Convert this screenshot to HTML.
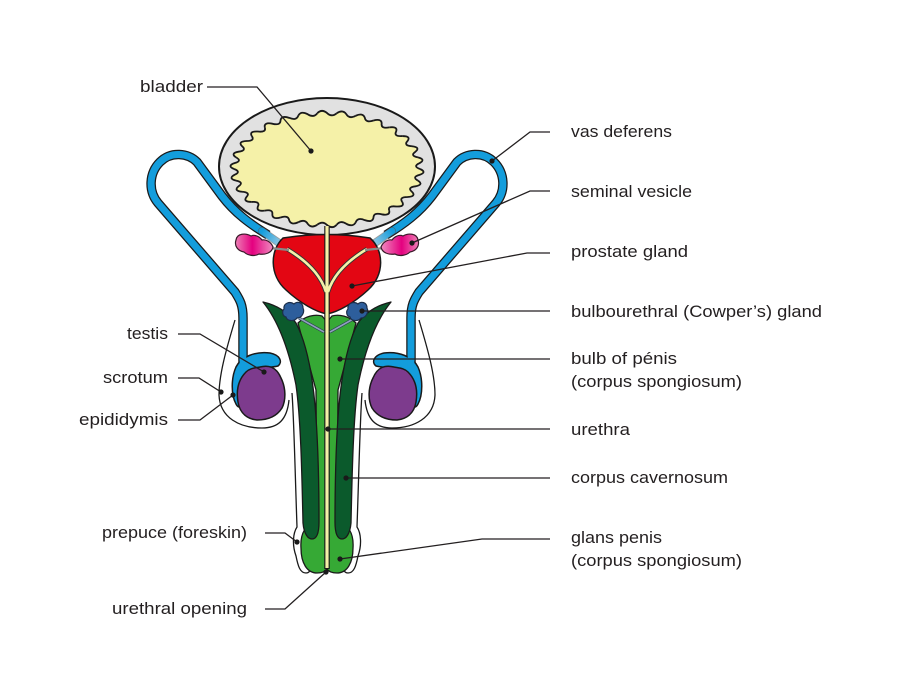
<!DOCTYPE html>
<html>
<head>
<meta charset="utf-8">
<style>
  html, body { margin: 0; padding: 0; background: #ffffff; }
  svg { display: block; }
  text { font-family: "Liberation Sans", Arial, sans-serif; font-size: 17px; fill: #231f20; }
</style>
</head>
<body>
<svg width="902" height="695" viewBox="0 0 902 695" xmlns="http://www.w3.org/2000/svg">
  <defs>
    <path id="wf" d="M0,0 L100,0 Q107.852,5.652 99.452,10.453 Q90.867,14.392 97.815,20.791 Z" fill="#f5f1a8"/>
    <path id="ws" d="M100,0 Q107.852,5.652 99.452,10.453 Q90.867,14.392 97.815,20.791" fill="none" stroke="#1a1a1a" stroke-width="1.8" vector-effect="non-scaling-stroke"/>
    <linearGradient id="vg" gradientUnits="userSpaceOnUse" x1="262" y1="231" x2="290" y2="250">
      <stop offset="0" stop-color="#139ddc"/>
      <stop offset="1" stop-color="#d9dde4"/>
    </linearGradient>
    <linearGradient id="sv" x1="0" y1="0" x2="1" y2="0">
      <stop offset="0" stop-color="#ee7fb6"/>
      <stop offset="0.45" stop-color="#e4007f"/>
      <stop offset="1" stop-color="#f08cc0"/>
    </linearGradient>
    <g id="backL">
      <!-- scrotum outline -->
      <path d="M235,320 C226,350 219,375 219,395 C220,418 240,428 262,428 C278,428 287,420 289,400" fill="none" stroke="#1a1a1a" stroke-width="1.3"/>
      <!-- vas deferens tube -->
      <path d="M243,372 L243,318 C243,305 240,300 235,292 L158,203 C148,191 149,173 160,162 C171,151 188,153 197,162 L222,196 C235,213 250,224 268,235" fill="none" stroke="#1a1a1a" stroke-width="9.5" stroke-linejoin="round"/>
      <path d="M243,372 L243,318 C243,305 240,300 235,292 L158,203 C148,191 149,173 160,162 C171,151 188,153 197,162 L222,196 C235,213 250,224 268,235" fill="none" stroke="#139ddc" stroke-width="7" stroke-linejoin="round"/>
      <path d="M262,231 C272,238 280,244 290,250" fill="none" stroke="#555" stroke-width="8" stroke-linecap="round" opacity="0.6"/>
      <path d="M262,231 C272,238 280,244 290,250" fill="none" stroke="url(#vg)" stroke-width="6.5" stroke-linecap="round"/>
    </g>
    <g id="frontL">
      <!-- seminal vesicle duct -->
      <path d="M270,248 L289,250" stroke="#8a8a8a" stroke-width="2.2"/>
      <!-- seminal vesicle -->
      <path d="M236,240 C237,233 246,233 251,236 C255,234 260,237 262,240 C266,239 271,242 273,247 C272,253 265,255 259,254 C254,257 247,255 244,252 C238,251 234,246 236,240 Z" fill="url(#sv)" stroke="#3a1a2a" stroke-width="1.2"/>
      <!-- epididymis -->
      <path d="M236,404 C231,395 231,378 236,367 C241,357 255,351 270,353 C280,355 283,362 278,366 C270,368 258,367 250,372 C244,378 244,392 243,404 C241,408 238,408 236,404 Z" fill="#139ddc" stroke="#1a1a1a" stroke-width="1.5"/>
      <path d="M243,340 L243,372" stroke="#139ddc" stroke-width="6.6"/>
      <!-- testis -->
      <path d="M260,367 C268,365 276,366 281,378 C286,388 286,400 282,408 C277,416 268,420 257,420 C248,419 240,414 238,402 C236,390 238,380 246,372 C250,368 255,368 260,367 Z" fill="#7d3b8d" stroke="#1a1a1a" stroke-width="1.5" stroke-linejoin="round"/>
    </g>
    <path id="dgL" d="M263,302 C276,318 288,345 296,385 C301,420 302,480 303,523 C304,534 308,539 312,539 C317,539 319,532 319,522 C319,480 318,440 315,405 C312,372 306,342 296,323 C288,312 276,305 263,302 Z" fill="#0b5a2c" stroke="#1a1a1a" stroke-width="1.3" stroke-linejoin="round"/>
    <path id="skinL" d="M292,393 C294,420 295,470 297,527 C293,533 292,545 296,556 C298,566 300,573 306,573 C311,573 312,566 309,560" fill="none" stroke="#1a1a1a" stroke-width="1.3"/>
  </defs>

  <rect width="902" height="695" fill="#ffffff"/>

  <!-- back: tubes & scrotum -->
  <use href="#backL"/>
  <use href="#backL" transform="translate(654,0) scale(-1,1)"/>

  <!-- bladder -->
  <ellipse cx="327" cy="166.5" rx="108" ry="68.5" fill="#e1e1e1" stroke="#1a1a1a" stroke-width="2"/>
  <g transform="translate(327,169) scale(0.93,0.56)">
    <circle r="97" fill="#f5f1a8"/>
    <use href="#wf" transform="rotate(0)"/><use href="#wf" transform="rotate(12)"/><use href="#wf" transform="rotate(24)"/>
    <use href="#wf" transform="rotate(36)"/><use href="#wf" transform="rotate(48)"/><use href="#wf" transform="rotate(60)"/>
    <use href="#wf" transform="rotate(72)"/><use href="#wf" transform="rotate(84)"/><use href="#wf" transform="rotate(96)"/>
    <use href="#wf" transform="rotate(108)"/><use href="#wf" transform="rotate(120)"/><use href="#wf" transform="rotate(132)"/>
    <use href="#wf" transform="rotate(144)"/><use href="#wf" transform="rotate(156)"/><use href="#wf" transform="rotate(168)"/>
    <use href="#wf" transform="rotate(180)"/><use href="#wf" transform="rotate(192)"/><use href="#wf" transform="rotate(204)"/>
    <use href="#wf" transform="rotate(216)"/><use href="#wf" transform="rotate(228)"/><use href="#wf" transform="rotate(240)"/>
    <use href="#wf" transform="rotate(252)"/><use href="#wf" transform="rotate(264)"/><use href="#wf" transform="rotate(276)"/>
    <use href="#wf" transform="rotate(288)"/><use href="#wf" transform="rotate(300)"/><use href="#wf" transform="rotate(312)"/>
    <use href="#wf" transform="rotate(324)"/><use href="#wf" transform="rotate(336)"/><use href="#wf" transform="rotate(348)"/>
    <circle r="94" fill="#f5f1a8"/>
    <use href="#ws" transform="rotate(0)"/><use href="#ws" transform="rotate(12)"/><use href="#ws" transform="rotate(24)"/>
    <use href="#ws" transform="rotate(36)"/><use href="#ws" transform="rotate(48)"/><use href="#ws" transform="rotate(60)"/>
    <use href="#ws" transform="rotate(72)"/><use href="#ws" transform="rotate(84)"/><use href="#ws" transform="rotate(96)"/>
    <use href="#ws" transform="rotate(108)"/><use href="#ws" transform="rotate(120)"/><use href="#ws" transform="rotate(132)"/>
    <use href="#ws" transform="rotate(144)"/><use href="#ws" transform="rotate(156)"/><use href="#ws" transform="rotate(168)"/>
    <use href="#ws" transform="rotate(180)"/><use href="#ws" transform="rotate(192)"/><use href="#ws" transform="rotate(204)"/>
    <use href="#ws" transform="rotate(216)"/><use href="#ws" transform="rotate(228)"/><use href="#ws" transform="rotate(240)"/>
    <use href="#ws" transform="rotate(252)"/><use href="#ws" transform="rotate(264)"/><use href="#ws" transform="rotate(276)"/>
    <use href="#ws" transform="rotate(288)"/><use href="#ws" transform="rotate(300)"/><use href="#ws" transform="rotate(312)"/>
    <use href="#ws" transform="rotate(324)"/><use href="#ws" transform="rotate(336)"/><use href="#ws" transform="rotate(348)"/>
  </g>

  <!-- penis skin / prepuce -->
  <path d="M292,393 C294,420 295,470 297,527 C293,533 292,545 296,556 C298,566 300,573 306,573 C311,573 312,566 309,560 L345,560 C342,566 343,573 348,573 C354,573 356,566 358,556 C362,545 361,533 357,527 C359,470 360,420 362,393 Z" fill="#ffffff"/>
  <use href="#skinL"/>
  <use href="#skinL" transform="translate(654,0) scale(-1,1)"/>

  <!-- corpus spongiosum (light green) -->
  <path d="M298,323 C305,316 315,314 322,316 L327,322 L332,316 C339,314 349,316 356,323 L338,390 L337,521 C348,524 354,533 353,548 C353,563 347,573 337,573 C332,573 329,572 327,569 C325,572 322,573 317,573 C307,573 301,563 301,548 C300,533 306,524 317,521 L316,390 Z" fill="#36a935" stroke="#1a1a1a" stroke-width="1.3" stroke-linejoin="round"/>

  <!-- corpora cavernosa (dark green) -->
  <use href="#dgL"/>
  <use href="#dgL" transform="translate(654,0) scale(-1,1)"/>

  <!-- prostate -->
  <path d="M283,238 Q327,231 370,238 C384,250 385,275 368,290 C354,303 338,312 327,314 C316,312 300,303 286,290 C269,275 270,250 283,238 Z" fill="#e30613" stroke="#1a1a1a" stroke-width="1.5"/>

  <!-- ducts and urethra -->
  <path d="M287,249 C302,258 320,272 326,292" fill="none" stroke="#333" stroke-width="4.5"/>
  <path d="M367,249 C352,258 334,272 328,292" fill="none" stroke="#333" stroke-width="4.5"/>
  <path d="M327,226 L327,569" stroke="#1a1a1a" stroke-width="5.5"/>
  <path d="M287,249 C302,258 320,272 326,292" fill="none" stroke="#f5f1a8" stroke-width="2.6"/>
  <path d="M367,249 C352,258 334,272 328,292" fill="none" stroke="#f5f1a8" stroke-width="2.6"/>
  <path d="M327,226 L327,568" stroke="#f5f1a8" stroke-width="3.2"/>

  <!-- bulbourethral ducts -->
  <path d="M299,318 L324,332" stroke="#2a3a50" stroke-width="3"/>
  <path d="M355,318 L330,332" stroke="#2a3a50" stroke-width="3"/>
  <path d="M299,318 L324,332" stroke="#8fa3bd" stroke-width="1.6"/>
  <path d="M355,318 L330,332" stroke="#8fa3bd" stroke-width="1.6"/>

  <!-- bulbourethral glands -->
  <path d="M284,309 C283,303 290,301 294,304 C297,301 303,302 303,308 C305,312 302,318 297,318 C294,322 287,321 286,317 C282,316 282,311 284,309 Z" fill="#2d5e9c" stroke="#1c2f4a" stroke-width="1.2"/>
  <path d="M348,309 C347,303 354,301 358,304 C361,301 367,302 367,308 C369,312 366,318 361,318 C358,322 351,321 350,317 C346,316 346,311 348,309 Z" fill="#2d5e9c" stroke="#1c2f4a" stroke-width="1.2"/>

  <!-- front: vesicles, epididymis, testes -->
  <use href="#frontL"/>
  <use href="#frontL" transform="translate(654,0) scale(-1,1)"/>

  <!-- leader lines -->
  <g fill="none" stroke="#231f20" stroke-width="1.3">
    <path d="M207,87 L257,87 L311,151"/>
    <path d="M178,334 L200,334 L264,372"/>
    <path d="M178,378 L199,378 L221,392"/>
    <path d="M178,420 L200,420 L233,395"/>
    <path d="M265,533 L285,533 L297,542"/>
    <path d="M265,609 L285,609 L326,572"/>
    <path d="M550,132 L530,132 L492,161"/>
    <path d="M550,191 L530,191 L412,243"/>
    <path d="M550,253 L527,253 L352,286"/>
    <path d="M550,311 L362,311"/>
    <path d="M550,359 L340,359"/>
    <path d="M550,429 L328,429"/>
    <path d="M550,478 L346,478"/>
    <path d="M550,539 L482,539 L340,559"/>
  </g>
  <g fill="#1a1a1a">
    <circle cx="311" cy="151" r="2.6"/>
    <circle cx="264" cy="372" r="2.6"/>
    <circle cx="221" cy="392" r="2.6"/>
    <circle cx="233" cy="395" r="2.6"/>
    <circle cx="297" cy="542" r="2.6"/>
    <circle cx="326" cy="572" r="2.6"/>
    <circle cx="492" cy="161" r="2.6"/>
    <circle cx="412" cy="243" r="2.6"/>
    <circle cx="352" cy="286" r="2.6"/>
    <circle cx="362" cy="311" r="2.6"/>
    <circle cx="340" cy="359" r="2.6"/>
    <circle cx="328" cy="429" r="2.6"/>
    <circle cx="346" cy="478" r="2.6"/>
    <circle cx="340" cy="559" r="2.6"/>
  </g>

  <!-- labels left -->
  <text x="203" y="92" text-anchor="end" textLength="63" lengthAdjust="spacingAndGlyphs">bladder</text>
  <text x="168" y="339" text-anchor="end" textLength="41" lengthAdjust="spacingAndGlyphs">testis</text>
  <text x="168" y="383" text-anchor="end" textLength="65" lengthAdjust="spacingAndGlyphs">scrotum</text>
  <text x="168" y="425" text-anchor="end" textLength="89" lengthAdjust="spacingAndGlyphs">epididymis</text>
  <text x="247" y="538" text-anchor="end" textLength="145" lengthAdjust="spacingAndGlyphs">prepuce (foreskin)</text>
  <text x="247" y="614" text-anchor="end" textLength="135" lengthAdjust="spacingAndGlyphs">urethral opening</text>

  <!-- labels right -->
  <text x="571" y="137" textLength="101" lengthAdjust="spacingAndGlyphs">vas deferens</text>
  <text x="571" y="197" textLength="121" lengthAdjust="spacingAndGlyphs">seminal vesicle</text>
  <text x="571" y="257" textLength="117" lengthAdjust="spacingAndGlyphs">prostate gland</text>
  <text x="571" y="317" textLength="251" lengthAdjust="spacingAndGlyphs">bulbourethral (Cowper’s) gland</text>
  <text x="571" y="364" textLength="106" lengthAdjust="spacingAndGlyphs">bulb of pénis</text>
  <text x="571" y="387" textLength="171" lengthAdjust="spacingAndGlyphs">(corpus spongiosum)</text>
  <text x="571" y="435" textLength="59" lengthAdjust="spacingAndGlyphs">urethra</text>
  <text x="571" y="483" textLength="157" lengthAdjust="spacingAndGlyphs">corpus cavernosum</text>
  <text x="571" y="543" textLength="91" lengthAdjust="spacingAndGlyphs">glans penis</text>
  <text x="571" y="566" textLength="171" lengthAdjust="spacingAndGlyphs">(corpus spongiosum)</text>
</svg>
</body>
</html>
